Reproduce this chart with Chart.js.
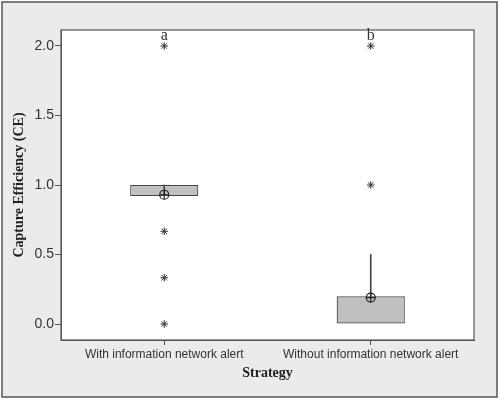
<!DOCTYPE html>
<html>
<head>
<meta charset="utf-8">
<script src="https://cdn.jsdelivr.net/npm/chart.js@4/dist/chart.umd.min.js"></script>
<style>
  body { margin: 0; background: #fff; }
</style>
</head>
<body>
<canvas id="chart" width="500" height="400"></canvas>
<script>
// values
const categories = ["With information network alert", "Without information network alert"];
const boxLow = [0.92, 0.0];
const boxHigh = [1.0, 0.2];
const whiskerLow = [0.93, 0.2];
const whiskerHigh = [1.0, 0.5];
const means = [0.93, 0.19];
const outliersWith = [2.0, 0.667, 0.333, 0.0];
const outliersWithout = [2.0, 1.0];
const groupLetters = ["a", "b"];
const tickValues = [0, 0.5, 1, 1.5, 2];

const tickFont = { family: "'Liberation Sans Narrow', 'Liberation Sans', sans-serif", size: 12 };
const yTickFont = { family: "'Liberation Sans', sans-serif", size: 14 };
const titleFont = { family: "'Liberation Serif', 'DejaVu Serif', serif", size: 14, weight: "bold" };

const pts = (cat, vals) => vals.map((v) => ({ x: cat, y: v }));

// grey panel, white plot area, frames and the a/b letters
const framePlugin = {
	id: "frame",
	beforeDraw(chart) {
		const { ctx, chartArea: a } = chart;
		ctx.save();
		ctx.fillStyle = "#fff";
		ctx.fillRect(0, 0, chart.width, chart.height);
		ctx.fillStyle = "#ebebeb";
		ctx.strokeStyle = "#555";
		ctx.lineWidth = 1.5;
		ctx.fillRect(2, 2, 495, 395);
		ctx.strokeRect(2, 2, 495, 395);
		ctx.fillStyle = "#fff";
		ctx.fillRect(a.left, a.top, a.right - a.left, a.bottom - a.top);
		ctx.restore();
	},
	afterDraw(chart) {
		const { ctx, chartArea: a, scales } = chart;
		ctx.save();
		ctx.strokeStyle = "#555";
		ctx.lineWidth = 1.2;
		ctx.strokeRect(a.left, a.top, a.right - a.left, a.bottom - a.top);
		ctx.fillStyle = "#333";
		ctx.font = "16px 'Liberation Serif', 'DejaVu Serif', serif";
		ctx.textAlign = "center";
		ctx.textBaseline = "alphabetic";
		groupLetters.forEach((l, i) => {
			ctx.fillText(l, scales.x.getPixelForValue(i), a.top + 10);
		});
		ctx.restore();
	},
};

new Chart(document.getElementById("chart"), {
	type: "bar",
	data: {
		labels: categories,
		datasets: [
			{
				label: "box",
				data: boxLow.map((v, i) => [v, boxHigh[i]]),
				backgroundColor: "#c0c0c0",
				borderColor: "#444",
				borderWidth: 1.2,
				borderSkipped: false,
				grouped: false,
				categoryPercentage: 1,
				barPercentage: 0.33,
				order: 3,
			},
			{
				label: "whisker",
				data: whiskerLow.map((v, i) => [v, whiskerHigh[i]]),
				backgroundColor: "#444",
				borderWidth: 0,
				grouped: false,
				barThickness: 1,
				order: 2,
			},
			{
				type: "line",
				label: "mean",
				data: means,
				showLine: false,
				pointStyle: "circle",
				pointRadius: 4.5,
				pointBorderWidth: 1.2,
				pointBorderColor: "#222",
				pointBackgroundColor: "rgba(0,0,0,0)",
				order: 1,
			},
			{
				type: "line",
				label: "mean cross",
				data: means,
				showLine: false,
				pointStyle: "cross",
				pointRadius: 4.5,
				pointBorderWidth: 1.2,
				pointBorderColor: "#222",
				order: 1,
			},
			{
				type: "line",
				label: "outliers",
				data: pts(categories[0], outliersWith).concat(pts(categories[1], outliersWithout)),
				showLine: false,
				pointStyle: "star",
				pointRadius: 3.8,
				pointBorderWidth: 1,
				pointBorderColor: "#333",
				order: 1,
			},
		],
	},
	options: {
		responsive: false,
		animation: false,
		devicePixelRatio: 1,
		layout: { padding: { left: 0, top: 30, right: 26, bottom: 14 } },
		plugins: { legend: { display: false }, tooltip: { enabled: false } },
		scales: {
			x: {
				type: "category",
				offset: true,
				grid: { display: true, drawOnChartArea: false, tickLength: 5, color: "#555", offset: false },
				border: { display: true, color: "#555" },
				ticks: { color: "#333", font: tickFont, padding: 2, maxRotation: 0 },
				title: { display: true, text: "Strategy", color: "#222", font: titleFont, padding: { top: 4 } },
				afterFit: (s) => { s.height = 46; },
			},
			y: {
				min: -0.115,
				max: 2.115,
				afterBuildTicks: (s) => { s.ticks = tickValues.map((v) => ({ value: v })); },
				grid: { display: true, drawOnChartArea: false, tickLength: 6, color: "#555" },
				border: { display: true, color: "#555" },
				ticks: { color: "#333", font: yTickFont, padding: 1, callback: (v) => Number(v).toFixed(1) },
				title: { display: true, text: "Capture Efficiency (CE)", color: "#222", font: titleFont, padding: { top: 11 } },
				afterFit: (s) => { s.width = 61; },
			},
		},
	},
	plugins: [framePlugin],
});
</script>
</body>
</html>
